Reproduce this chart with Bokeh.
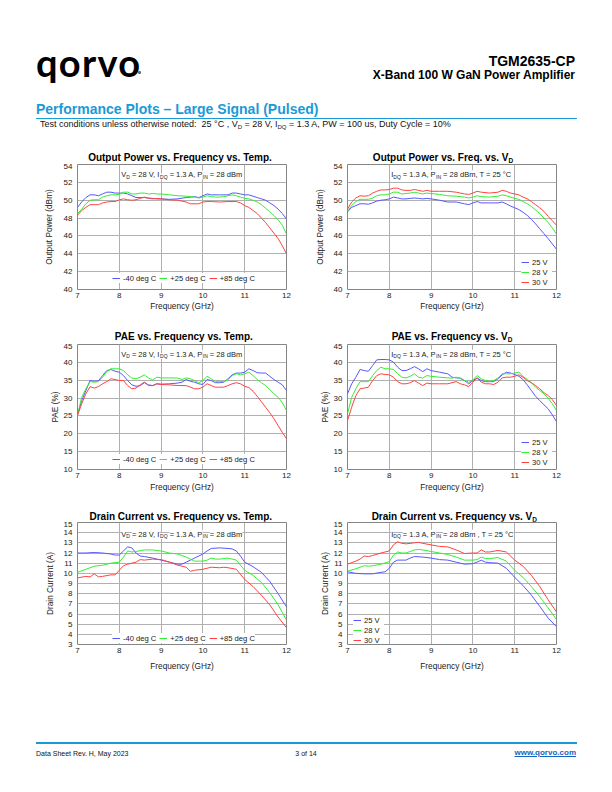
from bokeh.plotting import figure
from bokeh.models import Range1d, Label, FixedTicker, Div
from bokeh.layouts import column, row
from bokeh.embed import file_html
from bokeh.resources import INLINE

# ---------------------------------------------------------------- data
FREQ_TICKS = [7, 8, 9, 10, 11, 12]
POUT_TICKS = [40, 42, 44, 46, 48, 50, 52, 54]
PAE_TICKS = [10, 15, 20, 25, 30, 35, 40, 45]
ID_TICKS = [3, 4, 5, 6, 7, 8, 9, 10, 11, 12, 13, 14, 15]

TEMP_LABELS = ["-40 deg C", "+25 deg C", "+85 deg C"]
VD_LABELS = ["25 V", "28 V", "30 V"]

# Output power vs frequency vs temperature
pout_t_m40_f = [7.0, 7.1, 7.2, 7.3, 7.4, 7.5, 7.6, 7.7, 7.8, 7.9, 8.0, 8.1, 8.2, 8.3, 8.4, 8.5, 8.6, 8.7, 8.8, 8.9, 9.0,
                9.2, 9.4, 9.6, 9.8, 9.9, 10.0, 10.1, 10.2, 10.4, 10.6, 10.7, 10.8, 10.9,
                11.0, 11.1, 11.2, 11.3, 11.4, 11.5, 11.6, 11.7, 11.8, 11.9, 12.0]
pout_t_m40 = [49.2, 49.8, 50.3, 50.6, 50.6, 50.5, 50.7, 50.9, 50.9, 50.8, 50.8, 50.8, 50.7, 50.5, 50.3, 50.3, 50.3, 50.25, 50.2, 50.15, 50.15,
              50.1, 50.15, 50.3, 50.4, 50.3, 50.5, 50.7, 50.6, 50.6, 50.6, 50.8, 50.8, 50.7,
              50.6, 50.6, 50.45, 50.3, 50.15, 50.0, 49.7, 49.4, 49.0, 48.5, 47.9]
pout_t_p25_f = [7.0, 7.1, 7.2, 7.3, 7.4, 7.5, 7.6, 7.7, 7.8, 7.9, 8.0, 8.1, 8.2, 8.3, 8.4, 8.5, 8.6, 8.7, 8.8, 8.9, 9.0,
                9.2, 9.4, 9.6, 9.8, 9.9, 10.0, 10.1, 10.2, 10.3, 10.4, 10.5, 10.6, 10.7, 10.8, 10.9,
                11.0, 11.1, 11.2, 11.3, 11.4, 11.5, 11.6, 11.7, 11.8, 11.9, 12.0]
pout_t_p25 = [48.5, 49.0, 49.6, 50.0, 50.05, 50.05, 50.35, 50.5, 50.6, 50.6, 50.65, 50.9, 50.9, 50.7, 50.7, 50.8, 50.8, 50.7, 50.75, 50.7, 50.7,
              50.6, 50.5, 50.45, 50.35, 50.25, 50.35, 50.5, 50.4, 50.35, 50.35, 50.4, 50.5, 50.6, 50.5, 50.35,
              50.2, 50.15, 50.0, 49.8, 49.5, 49.1, 48.7, 48.3, 47.8, 47.2, 46.2]
pout_t_p85_f = [7.0, 7.1, 7.2, 7.3, 7.4, 7.5, 7.6, 7.7, 7.8, 7.9, 8.0, 8.1, 8.2, 8.3, 8.4, 8.5, 8.6, 8.7, 8.8, 8.9, 9.0,
                9.2, 9.4, 9.6, 9.7, 9.9, 10.0, 10.1, 10.2, 10.4, 10.6, 10.8, 10.9,
                11.0, 11.1, 11.2, 11.3, 11.4, 11.5, 11.6, 11.7, 11.8, 11.9, 12.0]
pout_t_p85 = [48.3, 48.85, 49.2, 49.5, 49.5, 49.5, 49.7, 49.8, 49.85, 49.85, 50.05, 50.15, 50.05, 50.0, 50.05, 50.2, 50.35, 50.2, 50.15, 50.2, 50.15,
              50.05, 50.0, 49.8, 49.6, 49.6, 49.8, 49.85, 49.85, 49.8, 49.85, 49.85, 49.7,
              49.4, 49.2, 48.85, 48.5, 48.0, 47.5, 46.9, 46.3, 45.7, 44.9, 44.0]

# Output power vs frequency vs drain voltage
pout_v_f = [7.0, 7.1, 7.2, 7.3, 7.4, 7.5, 7.6, 7.7, 7.8, 7.9, 8.0, 8.1, 8.2, 8.3, 8.4, 8.5, 8.6, 8.7, 8.8, 8.9, 9.0,
            9.2, 9.4, 9.6, 9.8, 9.9, 10.0, 10.1, 10.2, 10.4, 10.6, 10.7, 10.8, 10.9,
            11.0, 11.1, 11.2, 11.3, 11.4, 11.5, 11.6, 11.7, 11.8, 11.9, 12.0]
pout_v_25 = [48.7, 49.2, 49.4, 49.6, 49.6, 49.55, 49.7, 49.9, 50.0, 50.05, 50.15, 50.35, 50.25, 50.15, 50.15, 50.2, 50.25, 50.2, 50.15, 50.2, 50.15,
             50.0, 49.8, 49.8, 49.6, 49.5, 49.7, 49.85, 49.7, 49.7, 49.7, 49.8, 49.6, 49.35,
             49.15, 48.95, 48.65, 48.3, 47.85, 47.35, 46.8, 46.25, 45.7, 45.1, 44.5]
pout_v_28 = [48.75, 49.4, 49.85, 50.1, 50.1, 50.1, 50.25, 50.5, 50.6, 50.6, 50.7, 50.9, 50.9, 50.7, 50.75, 50.8, 50.9, 50.8, 50.7, 50.8, 50.75,
             50.65, 50.5, 50.45, 50.35, 50.25, 50.35, 50.5, 50.4, 50.35, 50.45, 50.6, 50.5, 50.35,
             50.2, 50.1, 49.85, 49.6, 49.3, 48.9, 48.5, 48.0, 47.5, 46.9, 46.2]
pout_v_30 = [49.0, 49.8, 50.25, 50.5, 50.45, 50.5, 50.8, 51.0, 51.15, 51.15, 51.2, 51.35, 51.35, 51.15, 51.1, 51.1, 51.2, 51.1, 51.0, 51.1, 51.0,
             51.0, 51.0, 50.9, 50.7, 50.65, 50.8, 51.0, 50.9, 50.8, 50.9, 51.1, 51.0, 50.8,
             50.7, 50.6, 50.35, 50.15, 49.85, 49.5, 49.15, 48.75, 48.2, 47.7, 47.2]

# PAE vs frequency vs temperature
pae_f = [7.0, 7.1, 7.2, 7.3, 7.4, 7.5, 7.6, 7.7, 7.8, 7.9, 8.0, 8.1, 8.2, 8.3, 8.4, 8.5, 8.6, 8.7, 8.8, 8.9, 9.0,
         9.2, 9.4, 9.5, 9.6, 9.7, 9.8, 9.9, 10.0, 10.1, 10.2, 10.3, 10.4, 10.5, 10.6, 10.7, 10.8, 10.9,
         11.0, 11.1, 11.2, 11.3, 11.4, 11.5, 11.6, 11.7, 11.8, 11.9, 12.0]
pae_t_m40 = [25.3, 29.3, 32.1, 34.9, 34.7, 34.8, 36.3, 37.7, 38.0, 37.5, 37.25, 36.3, 34.9, 33.7, 33.3, 33.5, 34.3, 33.7, 33.5, 34.0, 33.9,
             34.0, 34.2, 34.45, 35.2, 34.7, 34.45, 34.0, 33.8, 35.2, 34.9, 34.3, 34.3, 34.45, 35.4, 36.5, 37.0, 37.0,
             37.25, 38.2, 37.7, 37.1, 37.0, 37.0, 36.1, 35.2, 34.45, 33.7, 32.1]
pae_t_p25 = [25.3, 30.2, 32.6, 34.6, 34.45, 34.6, 35.85, 37.4, 38.2, 38.2, 38.2, 37.7, 36.5, 35.6, 35.4, 35.85, 36.5, 35.6, 35.1, 35.85, 35.65,
             35.65, 35.6, 35.2, 35.65, 35.4, 34.9, 34.3, 34.9, 36.1, 35.4, 34.6, 34.6, 34.6, 35.1, 36.3, 36.8, 36.5,
             36.8, 37.25, 36.3, 35.2, 34.3, 33.5, 32.4, 31.2, 30.25, 28.7, 26.5]
pae_t_p85_f = [7.0, 7.1, 7.2, 7.3, 7.4, 7.5, 7.6, 7.7, 7.8, 7.9, 8.0, 8.1, 8.2, 8.3, 8.4, 8.5, 8.6, 8.7, 8.8, 8.9, 9.0,
               9.2, 9.4, 9.6, 9.7, 9.8, 9.9, 10.0, 10.1, 10.2, 10.3, 10.4, 10.5, 10.6, 10.7, 10.8, 10.9,
               11.0, 11.1, 11.2, 11.3, 11.4, 11.5, 11.6, 11.7, 11.8, 11.9, 12.0]
pae_t_p85 = [25.1, 28.4, 31.2, 33.2, 32.8, 33.2, 34.0, 34.6, 35.4, 35.2, 34.9, 34.9, 33.5, 32.6, 32.8, 33.7, 34.45, 33.5, 33.5, 34.0, 33.8,
             33.7, 33.5, 33.5, 33.05, 32.6, 32.6, 33.05, 34.0, 33.5, 33.05, 33.05, 33.05, 33.5, 34.0, 34.3, 34.0,
             33.3, 32.95, 31.9, 30.5, 29.0, 27.45, 25.9, 24.2, 22.3, 20.4, 18.6]

# PAE vs frequency vs drain voltage (same frequency points as pae_f)
pae_v_25 = [31.2, 34.0, 35.85, 38.0, 37.7, 37.5, 39.1, 40.7, 40.8, 40.8, 40.7, 40.05, 38.65, 37.7, 37.7, 38.2, 38.8, 38.2, 37.4, 38.2, 37.7,
            37.25, 36.8, 35.85, 35.65, 35.6, 34.9, 34.0, 34.9, 35.65, 34.9, 34.6, 34.6, 34.6, 35.4, 36.5, 37.25, 37.0,
            36.6, 36.1, 35.2, 33.7, 32.1, 30.5, 29.3, 28.1, 27.0, 25.3, 23.4]
pae_v_28 = [25.6, 30.2, 32.6, 34.6, 34.6, 34.6, 36.3, 37.7, 38.65, 38.2, 38.2, 38.0, 36.8, 35.85, 35.65, 36.1, 36.8, 35.85, 35.6, 36.3, 36.1,
            35.85, 35.65, 35.6, 35.85, 35.4, 34.9, 34.45, 35.1, 36.3, 35.4, 34.9, 34.7, 34.9, 35.6, 36.8, 36.8, 36.8,
            37.0, 37.25, 36.1, 35.2, 34.3, 33.05, 32.1, 31.2, 30.0, 28.4, 26.5]
pae_v_30 = [23.7, 27.45, 30.7, 32.6, 32.8, 33.05, 34.9, 36.3, 36.8, 36.6, 36.5, 35.85, 34.6, 34.0, 34.0, 34.3, 34.9, 34.2, 33.5, 34.2, 34.0,
            34.0, 34.0, 34.3, 34.6, 34.0, 33.7, 33.2, 34.45, 35.6, 34.45, 34.0, 34.0, 33.8, 34.45, 35.65, 35.85, 35.85,
            36.1, 36.5, 35.85, 34.9, 34.3, 33.5, 32.6, 31.5, 30.7, 29.6, 27.9]

# Drain current vs frequency vs temperature
id_t_m40_f = [7.0, 7.2, 7.4, 7.6, 7.8, 7.9, 8.0, 8.1, 8.2, 8.3, 8.4, 8.5, 8.6, 8.8, 9.0, 9.2, 9.4, 9.5, 9.6, 9.8,
              10.0, 10.1, 10.2, 10.4, 10.6, 10.7, 10.8, 10.9, 11.0, 11.2, 11.4, 11.6, 11.8, 12.0]
id_t_m40 = [12.0, 12.0, 12.05, 12.0, 11.9, 11.8, 11.8, 12.2, 12.6, 12.5, 12.0, 11.7, 11.65, 11.5, 11.3, 11.1, 10.9, 10.9, 11.1, 11.5,
            11.9, 12.2, 12.45, 12.5, 12.45, 12.4, 12.2, 11.7, 11.1, 10.65, 10.1, 9.2, 8.0, 6.7]
id_t_p25_f = [7.0, 7.2, 7.4, 7.6, 7.8, 8.0, 8.1, 8.2, 8.3, 8.4, 8.6, 8.8, 9.0, 9.2, 9.4, 9.6, 9.8,
              10.0, 10.1, 10.2, 10.3, 10.4, 10.6, 10.8, 11.0, 11.2, 11.4, 11.6, 11.8, 12.0]
id_t_p25 = [10.1, 10.4, 10.7, 10.8, 11.0, 11.1, 11.6, 12.2, 12.1, 12.15, 12.3, 12.3, 12.2, 12.0, 11.9, 11.6, 11.2,
            11.2, 11.3, 11.5, 11.4, 11.4, 11.5, 11.3, 10.3, 9.8, 9.1, 8.1, 6.9, 5.4]
id_t_p85_f = [7.0, 7.2, 7.3, 7.4, 7.5, 7.6, 7.8, 7.9, 8.0, 8.1, 8.2, 8.4, 8.5, 8.6, 8.8, 9.0, 9.2, 9.4, 9.6, 9.7, 9.8,
              10.0, 10.2, 10.4, 10.5, 10.6, 10.8, 11.0, 11.2, 11.4, 11.6, 11.8, 12.0]
id_t_p85 = [9.55, 9.7, 9.65, 9.95, 9.65, 9.7, 9.85, 9.85, 10.3, 10.75, 10.9, 11.1, 11.35, 11.3, 11.4, 11.35, 11.1, 10.8, 10.6, 10.2, 10.3,
            10.4, 10.6, 10.55, 10.6, 10.55, 10.4, 9.4, 8.7, 7.85, 6.9, 5.7, 4.65]

# Drain current vs frequency vs drain voltage
id_v_25_f = [7.0, 7.2, 7.4, 7.6, 7.8, 7.9, 8.0, 8.1, 8.2, 8.4, 8.5, 8.6, 8.8, 9.0, 9.2, 9.4, 9.6, 9.8,
             10.0, 10.1, 10.2, 10.3, 10.4, 10.6, 10.8, 11.0, 11.2, 11.4, 11.6, 11.8, 12.0]
id_v_25 = [10.15, 10.0, 9.95, 9.95, 10.1, 10.15, 10.5, 11.1, 11.3, 11.3, 11.5, 11.65, 11.6, 11.5, 11.35, 11.3, 11.1, 10.9,
           10.95, 11.1, 11.3, 11.1, 11.05, 11.0, 10.5, 9.6, 8.8, 7.85, 6.75, 5.6, 4.75]
id_v_28_f = [7.0, 7.2, 7.4, 7.5, 7.6, 7.8, 8.0, 8.1, 8.2, 8.3, 8.4, 8.6, 8.7, 8.8, 9.0, 9.2, 9.4, 9.6, 9.8,
             10.0, 10.1, 10.2, 10.3, 10.4, 10.6, 10.8, 11.0, 11.2, 11.4, 11.6, 11.8, 12.0]
id_v_28 = [10.2, 10.45, 10.75, 10.7, 10.75, 10.9, 11.15, 11.8, 12.1, 12.0, 12.0, 12.3, 12.35, 12.3, 12.15, 12.0, 11.85, 11.6, 11.3,
           11.3, 11.35, 11.6, 11.45, 11.45, 11.55, 11.2, 10.3, 9.6, 8.7, 7.7, 6.6, 5.45]
id_v_30_f = [7.0, 7.2, 7.3, 7.4, 7.5, 7.6, 7.8, 8.0, 8.1, 8.2, 8.3, 8.4, 8.6, 8.7, 8.8, 9.0, 9.2, 9.4, 9.6, 9.8,
             10.0, 10.1, 10.2, 10.3, 10.4, 10.6, 10.8, 11.0, 11.2, 11.4, 11.6, 11.8, 12.0]
id_v_30 = [10.9, 11.2, 11.4, 11.7, 11.65, 11.75, 12.0, 12.2, 12.8, 13.1, 12.95, 12.9, 13.0, 13.05, 12.95, 12.8, 12.65, 12.6, 12.3, 11.95,
           12.0, 12.0, 12.3, 12.1, 12.1, 12.25, 12.1, 11.3, 10.7, 9.8, 8.7, 7.4, 6.2]

# ---------------------------------------------------------------- style
FONT = "Liberation Sans"
BLUE, GREEN, RED = "#5757ff", "#33ee33", "#ff4242"
QBLUE = "#1a9ad6"
FRAME_W = 209
PXG = FRAME_W / 5.0

_REG = {" ": 278, "!": 278, "%": 889, "(": 333, ")": 333, "+": 584, ",": 278, "-": 333, ".": 278, ":": 278,
        "=": 584, "°": 400, "–": 556}
for _c, _w in zip("ABCDEFGHIJKLMNOPQRSTUVWXYZ",
                  [667, 667, 722, 722, 667, 611, 778, 722, 278, 500, 667, 556, 833, 722, 778, 667, 778, 722, 667, 611, 722, 667, 944, 667, 667, 611]):
    _REG[_c] = _w
for _c, _w in zip("abcdefghijklmnopqrstuvwxyz",
                  [556, 556, 500, 556, 556, 278, 556, 556, 222, 222, 500, 222, 833, 556, 556, 556, 556, 333, 500, 278, 556, 500, 722, 500, 500, 500]):
    _REG[_c] = _w
for _c in "0123456789":
    _REG[_c] = 556


def tw(s, size):
    return sum(_REG.get(c, 556) for c in s) * size / 1000.0


def add_rich(p, segs, x_px, base_px, size, sub_size, drop, yr, fh, bg=None, color="#222222"):
    """Text with subscripts inside the plot frame; x_px / base_px are measured from the frame's top-left."""
    ymin, ymax = yr
    upp = (ymax - ymin) / fh
    x = x_px
    for t, s in segs:
        fs = sub_size if s else size
        core = t.strip(" ")
        lead = len(t) - len(t.lstrip(" "))
        trail = len(t) - lead - len(core)
        x += tw(" " * lead, fs)
        yb = ymax - (base_px + (drop if s else 0)) * upp
        lab = Label(x=7 + x / PXG, y=yb, text=core, text_font=FONT, text_font_size=f"{fs}px",
                    text_baseline="alphabetic", text_align="left", text_color=color)
        if bg:
            lab.background_fill_color = bg
        p.add_layout(lab)
        x += tw(core, fs) + tw(" " * trail, fs)


def make_fig(width, height, bl, br, bt, bb, yr, yticks, ylabel, ystd, xstd):
    p = figure(width=width, height=height, x_range=Range1d(7, 12), y_range=Range1d(*yr),
               output_backend="svg", toolbar_location=None, tools="",
               min_border_left=bl, min_border_right=br, min_border_top=bt, min_border_bottom=bb,
               background_fill_color="white", border_fill_color="white")
    p.title.text = ""
    p.title.visible = False
    p.outline_line_color = "#858585"
    p.outline_line_width = 1
    p.xaxis.ticker = FixedTicker(ticks=FREQ_TICKS)
    p.yaxis.ticker = FixedTicker(ticks=yticks)
    p.grid.grid_line_color = "#b0b0b0"
    p.grid.grid_line_width = 1
    for ax in (p.xaxis[0], p.yaxis[0]):
        ax.axis_line_color = None
        ax.major_tick_line_color = None
        ax.minor_tick_line_color = None
        ax.major_tick_out = 0
        ax.major_tick_in = 0
        ax.minor_tick_out = 0
        ax.minor_tick_in = 0
        ax.major_label_text_font = FONT
        ax.major_label_text_font_size = "8px"
        ax.major_label_text_color = "#1a1a1a"
        ax.axis_label_text_font = FONT
        ax.axis_label_text_font_size = "8.3px"
        ax.axis_label_text_font_style = "normal"
        ax.axis_label_text_color = "#1a1a1a"
    p.xaxis.axis_label = "Frequency (GHz)"
    p.yaxis.axis_label = ylabel
    p.xaxis.major_label_standoff = 3
    p.yaxis.major_label_standoff = 5
    p.xaxis.axis_label_standoff = xstd
    p.yaxis.axis_label_standoff = ystd
    return p


def style_legend(p, loc, orient, padding, spacing, label_h):
    lg = p.legend[0]
    lg.location = loc
    lg.orientation = orient
    lg.padding = padding
    lg.spacing = spacing
    lg.margin = 0
    lg.glyph_width = 8
    lg.glyph_height = label_h
    lg.label_height = label_h
    lg.label_standoff = 3
    lg.label_text_font = FONT
    lg.label_text_font_size = "7.6px"
    lg.label_text_color = "#1a1a1a"
    lg.border_line_color = None
    lg.background_fill_color = "white"
    lg.background_fill_alpha = 1.0


TEMP_ANN = [("V", False), ("D", True), (" = 28 V, I", False), ("DQ", True), (" = 1.3 A, P", False), ("IN", True), (" = 28 dBm", False)]
VD_ANN = [("I", False), ("DQ", True), (" = 1.3 A, P", False), ("IN", True), (" = 28 dBm, T = 25 °C", False)]
VD_ANN6 = [("I", False), ("DQ", True), (" = 1.3 A, P", False), ("IN", True), (" = 28 dBm , T = 25 °C", False)]

POUT_R = (40, 54)
PAE_R = (10, 45)
ID_R = (3, 15)

# ---- row 1 (frames: y 164-289)
f1 = make_fig(306, 159, 77, 20, 1, 33, POUT_R, POUT_TICKS, "Output Power (dBm)", 7, 0)
f1.line(pout_t_m40_f, pout_t_m40, color=BLUE, line_width=1, legend_label=TEMP_LABELS[0])
f1.line(pout_t_p25_f, pout_t_p25, color=GREEN, line_width=1, legend_label=TEMP_LABELS[1])
f1.line(pout_t_p85_f, pout_t_p85, color=RED, line_width=1, legend_label=TEMP_LABELS[2])
style_legend(f1, (35, 6), "horizontal", 1, 3, 10)
add_rich(f1, TEMP_ANN, 43.7, 10.2, 7.5, 5, 1.8, POUT_R, 125, bg="white")

f2 = make_fig(306, 159, 41, 56, 1, 33, POUT_R, POUT_TICKS, "Output Power (dBm)", 6, 0)
f2.line(pout_v_f, pout_v_25, color=BLUE, line_width=1, legend_label=VD_LABELS[0])
f2.line(pout_v_f, pout_v_28, color=GREEN, line_width=1, legend_label=VD_LABELS[1])
f2.line(pout_v_f, pout_v_30, color=RED, line_width=1, legend_label=VD_LABELS[2])
style_legend(f2, (174, 2), "vertical", 2, 0, 10)
add_rich(f2, VD_ANN, 43.7, 10.2, 7.5, 5, 1.8, POUT_R, 125, bg="white")

# ---- row 2 (frames: y 344-469)
f3 = make_fig(306, 157, 77, 20, 1, 31, PAE_R, PAE_TICKS, "PAE (%)", 1, 1)
f3.line(pae_f, pae_t_m40, color=BLUE, line_width=1, legend_label=TEMP_LABELS[0])
f3.line(pae_f, pae_t_p25, color=GREEN, line_width=1, legend_label=TEMP_LABELS[1])
f3.line(pae_t_p85_f, pae_t_p85, color=RED, line_width=1, legend_label=TEMP_LABELS[2])
style_legend(f3, (35, 5), "horizontal", 1, 3, 10)
add_rich(f3, TEMP_ANN, 43.7, 9.7, 7.5, 5, 1.8, PAE_R, 125, bg="white")

f4 = make_fig(306, 157, 41, 56, 1, 31, PAE_R, PAE_TICKS, "PAE (%)", 1, 1)
f4.line(pae_f, pae_v_25, color=BLUE, line_width=1, legend_label=VD_LABELS[0])
f4.line(pae_f, pae_v_28, color=GREEN, line_width=1, legend_label=VD_LABELS[1])
f4.line(pae_f, pae_v_30, color=RED, line_width=1, legend_label=VD_LABELS[2])
style_legend(f4, (174, 2), "vertical", 2, 0, 10)
add_rich(f4, VD_ANN, 43.7, 9.7, 7.5, 5, 1.8, PAE_R, 125, bg="white")

# ---- row 3 (frames: y 522-644)
f5 = make_fig(306, 159, 77, 20, 1, 36, ID_R, ID_TICKS, "Drain Current (A)", 6, 5)
f5.line(id_t_m40_f, id_t_m40, color=BLUE, line_width=1, legend_label=TEMP_LABELS[0])
f5.line(id_t_p25_f, id_t_p25, color=GREEN, line_width=1, legend_label=TEMP_LABELS[1])
f5.line(id_t_p85_f, id_t_p85, color=RED, line_width=1, legend_label=TEMP_LABELS[2])
style_legend(f5, (35, 1), "horizontal", 1, 3, 10)
add_rich(f5, TEMP_ANN, 43.7, 11.7, 7.5, 5, 1.8, ID_R, 122, bg="white")

f6 = make_fig(306, 159, 41, 56, 1, 36, ID_R, ID_TICKS, "Drain Current (A)", 1, 5)
f6.line(id_v_25_f, id_v_25, color=BLUE, line_width=1, legend_label=VD_LABELS[0])
f6.line(id_v_28_f, id_v_28, color=GREEN, line_width=1, legend_label=VD_LABELS[1])
f6.line(id_v_30_f, id_v_30, color=RED, line_width=1, legend_label=VD_LABELS[2])
style_legend(f6, (6, -1), "vertical", 2, 0, 10)
add_rich(f6, VD_ANN6, 43.7, 11.7, 7.5, 5, 1.8, ID_R, 122, bg="white")

# ---------------------------------------------------------------- page texts (HTML)
BASE = "font-family:'Liberation Sans',Arial,sans-serif;"
TSUB = '<span style="font-size:6.5px;vertical-align:-2px;">{}</span>'
SUB = '<span style="font-size:6px;vertical-align:-2px;">{}</span>'


def title_div(h, items):
    parts = []
    for cx, top, html in items:
        parts.append(f'<div style="position:absolute;left:{cx}px;top:{top}px;transform:translateX(-50%);'
                     f'font-weight:700;font-size:10px;line-height:1;color:#000;white-space:nowrap;">{html}</div>')
    inner = "".join(parts)
    return Div(text=f'<div style="position:relative;width:612px;height:{h}px;{BASE}">{inner}</div>',
               width=612, height=h, margin=0)


t_row1 = title_div(18, [(180, 7.8, "Output Power vs. Frequency vs. Temp."),
                        (443, 7.8, "Output Power vs. Freq. vs. V" + TSUB.format("D"))])
t_row2 = title_div(21, [(183.8, 9.8, "PAE vs. Frequency vs. Temp."),
                        (452, 9.8, "PAE vs. Frequency vs. V" + TSUB.format("D"))])
t_row3 = title_div(21, [(180.8, 11.8, "Drain Current vs. Frequency vs. Temp."),
                        (454.3, 11.8, "Drain Current vs. Frequency vs. V" + TSUB.format("D"))])

header_html = f"""
<div style="position:relative;width:612px;height:145px;{BASE}color:#000;">
  <div style="position:absolute;left:36px;top:43px;font-family:Lato;font-weight:700;font-size:38px;letter-spacing:1.3px;line-height:1;white-space:nowrap;">qorvo</div>
  <div style="position:absolute;left:138px;top:71px;width:2.5px;height:2.5px;border-radius:50%;background:#666;"></div>
  <div style="position:absolute;right:37px;top:53.6px;font-weight:700;font-size:14px;line-height:1;white-space:nowrap;">TGM2635-CP</div>
  <div style="position:absolute;right:37px;top:68.5px;font-weight:700;font-size:12px;line-height:1;white-space:nowrap;">X-Band 100 W GaN Power Amplifier</div>
  <div style="position:absolute;left:36px;top:101.5px;font-weight:700;font-size:14px;line-height:1;color:{QBLUE};white-space:nowrap;">Performance Plots – Large Signal (Pulsed)</div>
  <div style="position:absolute;left:36px;top:117.5px;width:541px;height:1.5px;background:{QBLUE};"></div>
  <div style="position:absolute;left:40px;top:120px;font-size:9px;line-height:1;color:#111;white-space:nowrap;">Test conditions unless otherwise noted:&nbsp; 25 °C , V{SUB.format('D')} = 28 V, I{SUB.format('DQ')} = 1.3 A, PW = 100 us, Duty Cycle = 10%</div>
</div>
"""
footer_html = f"""
<div style="position:relative;width:612px;height:112px;{BASE}color:#111;">
  <div style="position:absolute;left:36px;top:62px;width:541px;height:1.5px;background:{QBLUE};"></div>
  <div style="position:absolute;left:36px;top:69.5px;font-size:7px;line-height:1;white-space:nowrap;">Data Sheet Rev. H, May 2023</div>
  <div style="position:absolute;left:306px;top:69.5px;font-size:7px;line-height:1;white-space:nowrap;transform:translateX(-50%);">3 of 14</div>
  <div style="position:absolute;right:36px;top:69px;font-size:8px;font-weight:700;line-height:1;color:#1565c0;text-decoration:underline;white-space:nowrap;">www.qorvo.com</div>
</div>
"""
header = Div(text=header_html, width=612, height=145, margin=0)
footer = Div(text=footer_html, width=612, height=112, margin=0)

layout = column(header,
                t_row1, row(f1, f2, spacing=0),
                t_row2, row(f3, f4, spacing=0),
                t_row3, row(f5, f6, spacing=0),
                footer, spacing=0)

open("out.html", "w").write(file_html(layout, INLINE, title="TGM2635-CP Performance Plots"))
